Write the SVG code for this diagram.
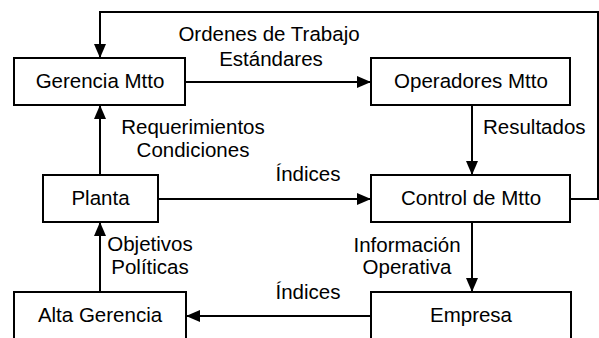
<svg xmlns="http://www.w3.org/2000/svg" width="599" height="338" viewBox="0 0 599 338">
<style>
.box{fill:#fff;stroke:#000;stroke-width:2}
.lbl{font-family:"Liberation Sans",Arial,sans-serif;font-size:20.5px;fill:#000}
.mid{text-anchor:middle}
.con{fill:none;stroke:#000;stroke-width:2}
</style>
<defs>
<marker id="ah" markerUnits="userSpaceOnUse" markerWidth="14" markerHeight="12" refX="14" refY="6" orient="auto">
<path d="M0,0 L14,6 L0,12 z" fill="#000"/>
</marker>
</defs>
<rect width="599" height="338" fill="#fff"/>
<g id="connectors">
<line class="con" x1="185" y1="82" x2="371" y2="82" marker-end="url(#ah)"/>
<line class="con" x1="472" y1="105" x2="472" y2="175" marker-end="url(#ah)"/>
<line class="con" x1="158" y1="199" x2="371" y2="199" marker-end="url(#ah)"/>
<line class="con" x1="100" y1="175" x2="100" y2="105" marker-end="url(#ah)"/>
<line class="con" x1="100" y1="292" x2="100" y2="222" marker-end="url(#ah)"/>
<line class="con" x1="472" y1="222" x2="472" y2="292" marker-end="url(#ah)"/>
<line class="con" x1="371" y1="316" x2="186" y2="316" marker-end="url(#ah)"/>
<polyline class="con" points="570,199 598,199 598,12 100,12 100,58" marker-end="url(#ah)"/>
<text class="lbl mid" x="269" y="40.5">Ordenes de Trabajo</text>
<text class="lbl mid" x="271" y="65.5">Estándares</text>
<text class="lbl mid" x="193" y="133.5">Requerimientos</text>
<text class="lbl mid" x="193" y="157">Condiciones</text>
<text class="lbl" x="483" y="133.5">Resultados</text>
<text class="lbl mid" x="308" y="181">Índices</text>
<text class="lbl mid" x="150" y="251">Objetivos</text>
<text class="lbl mid" x="150" y="273.5">Políticas</text>
<text class="lbl mid" x="407" y="251.5">Información</text>
<text class="lbl mid" x="407" y="273.5">Operativa</text>
<text class="lbl mid" x="308" y="298.5">Índices</text>
</g>
<g id="gerencia">
<rect class="box" x="14" y="58" width="171" height="47"/>
<text class="lbl mid" x="100" y="88">Gerencia Mtto</text>
</g>
<g id="operadores">
<rect class="box" x="371" y="58" width="199" height="47"/>
<text class="lbl mid" x="471" y="88">Operadores Mtto</text>
</g>
<g id="planta">
<rect class="box" x="43" y="175" width="115" height="47"/>
<text class="lbl mid" x="100.5" y="205">Planta</text>
</g>
<g id="control">
<rect class="box" x="371" y="175" width="199" height="47"/>
<text class="lbl mid" x="471" y="205">Control de Mtto</text>
</g>
<g id="alta">
<rect class="box" x="14" y="292" width="172" height="60"/>
<text class="lbl mid" x="100" y="322">Alta Gerencia</text>
</g>
<g id="empresa">
<rect class="box" x="371" y="292" width="200" height="60"/>
<text class="lbl mid" x="471" y="322">Empresa</text>
</g>
</svg>
